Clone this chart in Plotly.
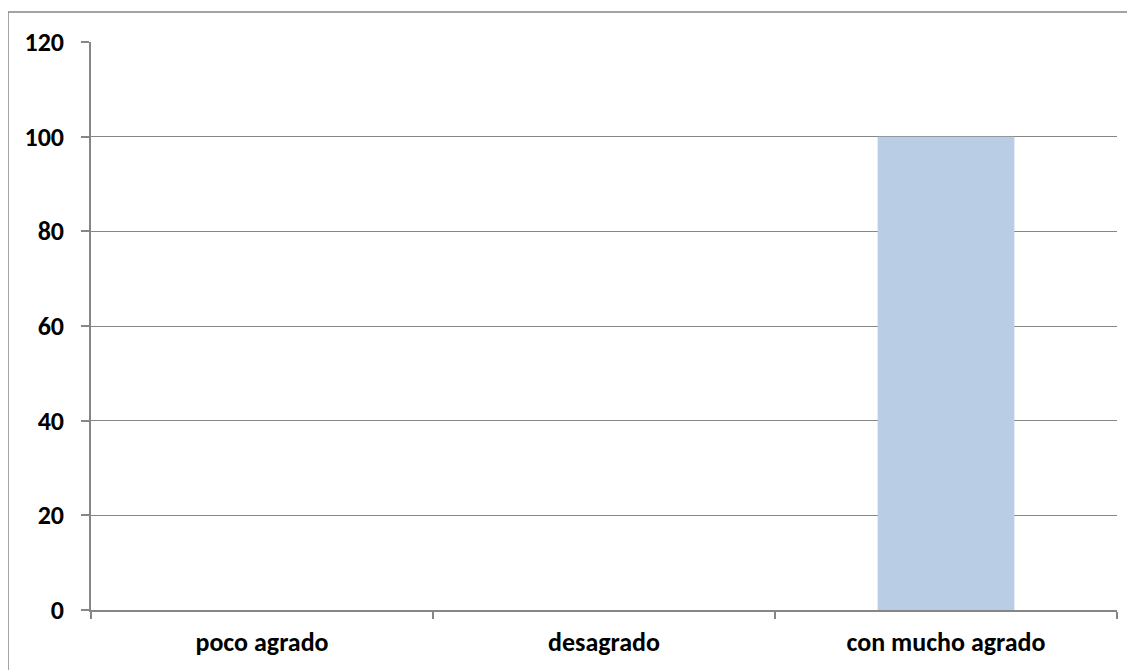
import plotly.graph_objects as go

categories = ["poco agrado", "desagrado", "con mucho agrado"]
values = [0, 0, 100]
y_ticks = [0, 20, 40, 60, 80, 100, 120]

GRAY = "#868686"
FONT = "Carlito, Calibri, Lato, sans-serif"

# page body adds an 8px offset, compensate in margins
L, T, R, B = 83, 34, 1109, 602
W, H = 1135, 670

fig = go.Figure(
    go.Bar(x=categories, y=values, width=0.4, marker=dict(color="#B9CDE5", line=dict(width=0)))
)

fig.update_layout(
    width=W, height=H,
    margin=dict(l=L, r=W - R, t=T, b=H - B),
    paper_bgcolor="white", plot_bgcolor="white",
    showlegend=False,
    font=dict(family=FONT, size=26, color="black"),
)

fig.update_xaxes(
    type="category",
    showgrid=False,
    showline=True, linecolor=GRAY, linewidth=1.5,
    ticks="outside", tickson="boundaries", ticklen=7, tickcolor=GRAY, tickwidth=1.5,
    tickfont=dict(family=FONT, size=26, color="black", weight="bold"),
    ticklabelstandoff=8,
    fixedrange=True,
)

fig.update_yaxes(
    range=[0, 120],
    tickvals=y_ticks,
    showgrid=True, gridcolor=GRAY, gridwidth=1.2,
    zeroline=False,
    showline=True, linecolor=GRAY, linewidth=1.5,
    ticks="outside", ticklen=8, tickcolor=GRAY, tickwidth=1.5,
    tickfont=dict(family=FONT, size=26, color="black", weight="bold"),
    ticklabelstandoff=12,
    fixedrange=True,
)

# outer chart border (figure pixel coords converted to paper)
pw, ph = R - L, B - T
fig.add_shape(
    type="rect", xref="paper", yref="paper",
    x0=(0 - L) / pw, x1=(W + 10 - L) / pw,
    y0=(B - (H + 10)) / ph, y1=(B - 4) / ph,
    line=dict(color=GRAY, width=1.5), fillcolor="rgba(0,0,0,0)",
    layer="below",
)

fig.write_html("out.html")
